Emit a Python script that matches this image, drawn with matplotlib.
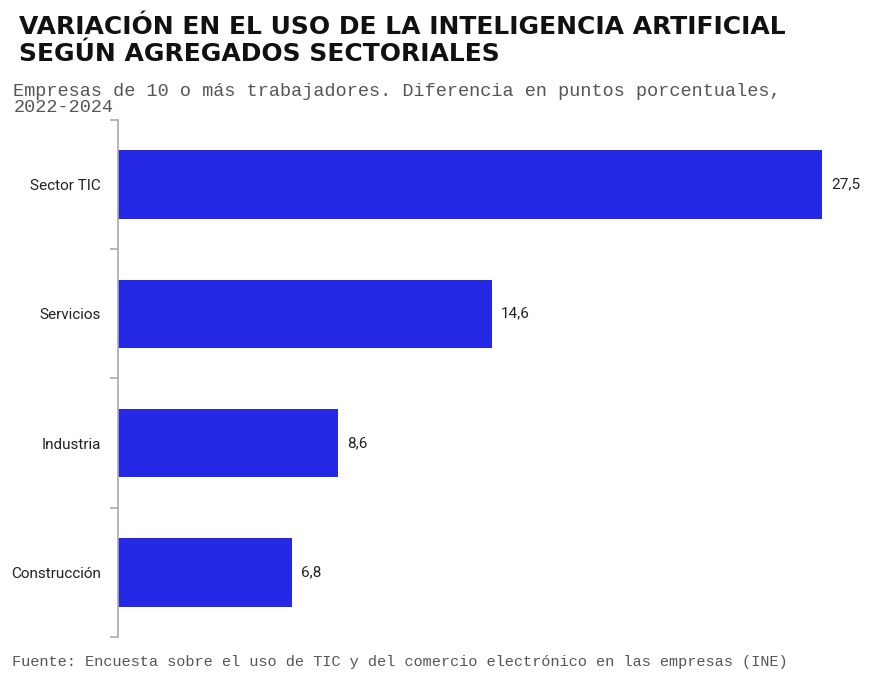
import numpy as np
import matplotlib.pyplot as plt

# datos
sectores = ["Sector TIC", "Servicios", "Industria", "Construcción"]
variacion = [27.5, 14.6, 8.6, 6.8]
etiquetas = ["27,5", "14,6", "8,6", "6,8"]

titulo = "VARIACIÓN EN EL USO DE LA INTELIGENCIA ARTIFICIAL\nSEGÚN AGREGADOS SECTORIALES"
subtitulo = "Empresas de 10 o más trabajadores. Diferencia en puntos porcentuales,\n2022-2024"
fuente = "Fuente: Encuesta sobre el uso de TIC y del comercio electrónico en las empresas (INE)"

color_barra = "#2529E6"

fig = plt.figure(figsize=(8.86, 6.77), dpi=100)
ax = fig.add_axes([0.133, 0.059, 0.85, 0.764])

y = np.arange(len(sectores))
ax.barh(y, variacion, height=0.53, color=color_barra)
for yi, v, lab in zip(y, variacion, etiquetas):
    ax.text(v + 0.35, yi, lab, va="center", ha="left", fontsize=11,
            family="Roboto", color="#222222")

ax.set_ylim(len(sectores) - 0.5, -0.5)
ax.set_xlim(0, 29.4)

# ticks en los limites de cada categoria
ax.set_yticks(np.arange(-0.5, len(sectores), 1.0))
ax.set_yticklabels([])
ax.set_yticks(y, minor=True)
ax.set_yticklabels(sectores, minor=True, fontsize=11, family="Roboto", color="#222222")
ax.tick_params(axis="y", which="major", length=6, color="#aaaaaa", width=1.2)
ax.tick_params(axis="y", which="minor", length=0, pad=12)
ax.set_xticks([])

for s in ["top", "right", "bottom"]:
    ax.spines[s].set_visible(False)
ax.spines["left"].set_color("#aaaaaa")
ax.spines["left"].set_linewidth(1.2)

fig.text(0.022, 0.978, titulo, ha="left", va="top", fontsize=18,
         family="DejaVu Sans", weight="heavy", color="#111111", linespacing=1.15)
fig.text(0.015, 0.877, subtitulo, ha="left", va="top", fontsize=13.3,
         family="Liberation Mono", color="#555555", linespacing=0.92)
fig.text(0.013, 0.012, fuente, ha="left", va="bottom", fontsize=11,
         family="Liberation Mono", color="#555555")

fig.savefig("out.png", dpi=100)
